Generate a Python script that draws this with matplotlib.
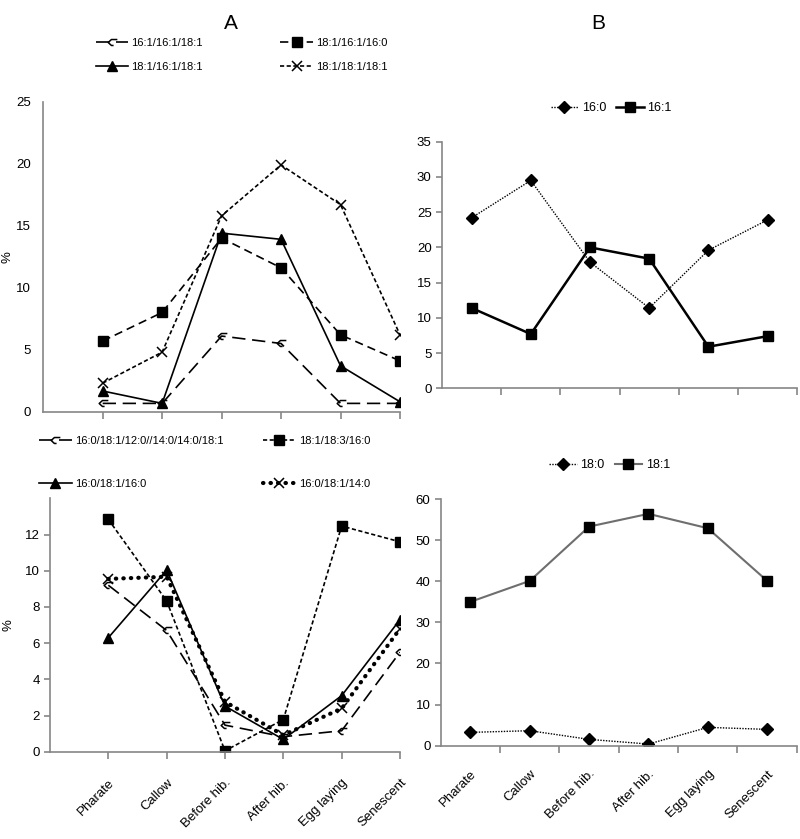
import numpy as np
import matplotlib
matplotlib.use("Agg")
import matplotlib.pyplot as plt
from matplotlib.path import Path

plt.rcParams['font.family'] = ['Liberation Sans', 'DejaVu Sans']

stages = ["Pharate", "Callow", "Before hib.", "After hib.", "Egg laying", "Senescent"]

# panel A, top
tl_labels = ["16:1/16:1/18:1", "18:1/16:1/16:0", "18:1/16:1/18:1", "18:1/18:1/18:1"]
tl_a = [0.67, 0.67, 6.1, 5.5, 0.67, 0.67]
tl_b = [5.7, 8.0, 14.0, 11.6, 6.2, 4.1]
tl_c = [1.67, 0.67, 14.4, 13.9, 3.7, 0.8]
tl_d = [2.3, 4.8, 15.8, 19.9, 16.7, 6.2]

# panel A, bottom
bl_labels = ["16:0/18:1/12:0//14:0/14:0/18:1", "18:1/18:3/16:0", "16:0/18:1/16:0", "16:0/18:1/14:0"]
bl_a = [9.2, 6.7, 1.47, 0.83, 1.16, 5.5]
bl_b = [12.84, 8.33, 0.05, 1.78, 12.47, 11.6]
bl_c = [6.3, 10.04, 2.52, 0.68, 3.1, 7.3]
bl_d = [9.55, 9.67, 2.76, 0.92, 2.39, 6.8]

# panel B
tr_160 = [24.2, 29.5, 17.9, 11.4, 19.6, 23.9]
tr_161 = [11.4, 7.7, 20.0, 18.4, 5.9, 7.4]
br_180 = [3.24, 3.65, 1.54, 0.4, 4.46, 3.97]
br_181 = [35.0, 40.1, 53.3, 56.4, 52.9, 40.1]

hook = Path([(0.9, 0.55), (-0.2, 0.55), (-0.8, 0.0), (-0.2, -0.55), (0.2, -0.55)],
            [Path.MOVETO, Path.LINETO, Path.LINETO, Path.LINETO, Path.LINETO])

grey = "#868686"
x = np.arange(len(stages))

fig = plt.figure(figsize=(8, 8.39), dpi=100)


def style(ax):
    for s in ["top", "right"]:
        ax.spines[s].set_visible(False)
    for s in ["left", "bottom"]:
        ax.spines[s].set_color(grey)
        ax.spines[s].set_linewidth(1.2)
    ax.tick_params(axis="both", colors=grey, labelcolor="black", labelsize=9.5, width=1.2)


# ---- top left
ax1 = fig.add_axes([0.054, 0.5093, 0.446, 0.3695])
l1, = ax1.plot(x, tl_a, color="k", lw=1.2, dashes=(8, 4), marker=hook, ms=7, mfc="none", mec="k", mew=1.1)
l2, = ax1.plot(x, tl_b, color="k", lw=1.2, dashes=(5, 3), marker="s", ms=7)
l3, = ax1.plot(x, tl_c, color="k", lw=1.2, marker="^", ms=6.5)
l4, = ax1.plot(x, tl_d, color="k", lw=1.2, dashes=(2.5, 1.5), marker="x", ms=6.5, mew=1.1)
ax1.set_xlim(-1, 5)
ax1.set_ylim(0, 25)
ax1.set_yticks([0, 5, 10, 15, 20, 25])
ax1.set_xticks(x)
ax1.set_xticklabels([])
style(ax1)
ax1.tick_params(axis="y", length=0, pad=9)
ax1.tick_params(axis="x", length=5, direction="out")
ax1.set_ylabel("%", fontsize=9.5)
ax1.yaxis.set_label_coords(-0.083, 0.5)
fig.legend([l1, l3, l2, l4], [tl_labels[0], tl_labels[2], tl_labels[1], tl_labels[3]],
           ncol=2, loc="center", bbox_to_anchor=(0.302, 0.9344), frameon=False,
           fontsize=8, handlelength=2.9, columnspacing=7.0, labelspacing=1.3, handletextpad=0.3)
fig.text(0.288, 0.972, "A", fontsize=15, ha="center", va="center")

# ---- bottom left
ax2 = fig.add_axes([0.0625, 0.104, 0.4375, 0.302])
m1, = ax2.plot(x, bl_a, color="k", lw=1.2, dashes=(8, 4), marker=hook, ms=7, mfc="none", mec="k", mew=1.1)
m2, = ax2.plot(x, bl_b, color="k", lw=1.2, dashes=(2.5, 1.5), marker="s", ms=7.5)
m3, = ax2.plot(x, bl_c, color="k", lw=1.2, marker="^", ms=6.5)
m4, = ax2.plot(x, bl_d, color="k", lw=3, linestyle=(0, (0.1, 1.7)), dash_capstyle="round",
               marker="x", ms=6.5, mew=1.1)
ax2.set_xlim(-1, 5)
ax2.set_ylim(0, 14)
ax2.set_yticks([0, 2, 4, 6, 8, 10, 12])
ax2.set_xticks(x)
ax2.set_xticklabels(stages, rotation=45, ha="right", rotation_mode="anchor", fontsize=10.5)
style(ax2)
ax2.tick_params(axis="y", length=4, direction="out")
ax2.tick_params(axis="x", length=5, direction="out", pad=13)
for t in ax2.get_xticklabels():
    t.set_x(t.get_position()[0] + 0.1)
ax2.set_ylabel("%", fontsize=9.5)
ax2.yaxis.set_label_coords(-0.1, 0.5)
fig.legend([m1, m3, m2, m4], [bl_labels[0], bl_labels[2], bl_labels[1], bl_labels[3]],
           ncol=2, loc="center", bbox_to_anchor=(0.256, 0.4487), frameon=False,
           fontsize=8, handlelength=2.9, columnspacing=3.6, labelspacing=3.0, handletextpad=0.3)

# ---- top right
ax3 = fig.add_axes([0.5525, 0.5372, 0.444, 0.2939])
n1, = ax3.plot(x, tr_160, color="k", lw=1, linestyle=(0, (1, 1)), marker="D", ms=6)
n2, = ax3.plot(x, tr_161, color="k", lw=1.8, marker="s", ms=7.5)
ax3.set_xlim(-0.5, 5.5)
ax3.set_ylim(0, 35)
ax3.set_yticks(np.arange(0, 36, 5))
ax3.set_xticks(x)
ax3.set_xticklabels([])
ax3.set_xticks(np.arange(0.5, 6, 1), minor=True)
style(ax3)
ax3.tick_params(axis="x", which="major", length=0)
ax3.tick_params(axis="x", which="minor", length=5, direction="out", color=grey, width=1.2)
ax3.tick_params(axis="y", length=4, direction="out")
ax3.legend([n1, n2], ["16:0", "16:1"], ncol=2, loc="center", bbox_to_anchor=(0.764, 0.871),
           bbox_transform=fig.transFigure, frameon=False, fontsize=9,
           handlelength=2.2, columnspacing=0.8, handletextpad=0.3)
fig.text(0.7475, 0.972, "B", fontsize=15, ha="center", va="center")

# ---- bottom right
ax4 = fig.add_axes([0.551, 0.1112, 0.445, 0.294])
o1, = ax4.plot(x, br_180, color="k", lw=1, linestyle=(0, (1, 1)), marker="D", ms=6)
o2, = ax4.plot(x, br_181, color="#6e6e6e", lw=1.5, marker="s", ms=7.5, mfc="k", mec="k")
ax4.set_xlim(-0.5, 5.5)
ax4.set_ylim(0, 60)
ax4.set_yticks(np.arange(0, 61, 10))
ax4.set_xticks(x)
ax4.set_xticklabels(stages, rotation=45, ha="right", rotation_mode="anchor", fontsize=10.5)
ax4.set_xticks(np.arange(0.5, 6, 1), minor=True)
style(ax4)
ax4.tick_params(axis="x", which="major", length=0, pad=16)
ax4.tick_params(axis="x", which="minor", length=5, direction="out", color=grey, width=1.2)
ax4.tick_params(axis="y", length=4, direction="out")
ax4.legend([o1, o2], ["18:0", "18:1"], ncol=2, loc="center", bbox_to_anchor=(0.762, 0.4458),
           bbox_transform=fig.transFigure, frameon=False, fontsize=9,
           handlelength=2.2, columnspacing=0.8, handletextpad=0.3)

fig.savefig("out.png", dpi=100)
